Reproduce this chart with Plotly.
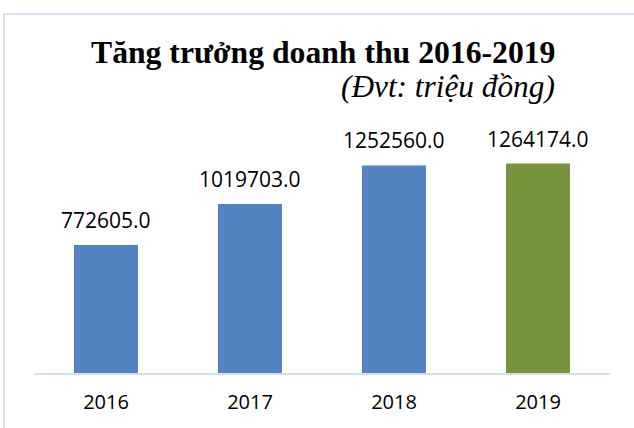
import plotly.graph_objects as go

years = ["2016", "2017", "2018", "2019"]
revenue = [772605.0, 1019703.0, 1252560.0, 1264174.0]
bar_colors = ["#5383c3", "#5383c3", "#5383c3", "#77933c"]
title_main = "Tăng trưởng doanh thu 2016-2019"
title_unit = "(Đvt: triệu đồng)"

W, H = 634, 428
ml, mr, mt, mb = 34, 24, 141, 55
pw, ph = W - ml - mr, H - mt - mb

def px_x(x):
    return (x - ml) / pw

def px_y(y):
    return (H - mb - y) / ph

fig = go.Figure()
fig.add_trace(go.Bar(
    x=years, y=revenue,
    marker=dict(color=bar_colors, line=dict(width=0)),
    hoverinfo="skip",
))

annotations = []
for i, v in enumerate(revenue):
    annotations.append(dict(
        x=i, y=v, xref="x", yref="y", text=f"{v:.1f}", showarrow=False,
        yanchor="bottom", yshift=9,
        font=dict(family="Open Sans", size=21, color="#000000"),
    ))

annotations.append(dict(
    x=px_x(557), y=px_y(52), xref="paper", yref="paper", text=f"<b>{title_main}</b>",
    showarrow=False, xanchor="right", yanchor="middle",
    font=dict(family="Liberation Serif", size=31.7, color="#000000"),
))
annotations.append(dict(
    x=px_x(557), y=px_y(86), xref="paper", yref="paper", text=f"<i>{title_unit}</i>",
    showarrow=False, xanchor="right", yanchor="middle",
    font=dict(family="Liberation Serif", size=31.3, color="#000000"),
))

fig.update_layout(
    width=W, height=H,
    margin=dict(l=ml, r=mr, t=mt, b=mb, pad=0),
    paper_bgcolor="white", plot_bgcolor="white",
    bargap=0.556,
    showlegend=False,
    annotations=annotations,
    shapes=[dict(
        type="rect", xref="paper", yref="paper",
        x0=px_x(4), x1=px_x(700), y0=px_y(500), y1=px_y(14),
        line=dict(color="#d6e1f2", width=2), fillcolor="rgba(0,0,0,0)", layer="below",
    )],
    xaxis=dict(
        type="category", range=[-0.5, len(years) - 0.5],
        showline=True, linecolor="#d3def0", linewidth=2,
        showgrid=False, zeroline=False, ticks="",
        ticklabelstandoff=10,
        tickfont=dict(family="Open Sans", size=20, color="#000000"),
        fixedrange=True,
    ),
    yaxis=dict(
        range=[0, 1400000], visible=False, showgrid=False, zeroline=False,
        fixedrange=True,
    ),
)

fig.write_html(
    "out.html",
    config={"displayModeBar": False},
    post_script="document.body.style.margin='0';document.body.style.overflow='hidden';",
)
